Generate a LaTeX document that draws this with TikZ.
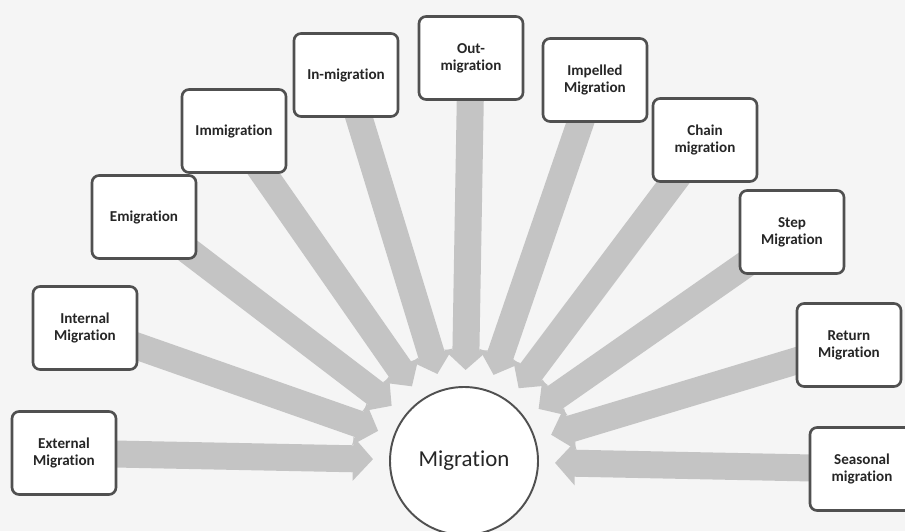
\documentclass[tikz,border=0pt]{standalone}
\usepackage{fontspec}
\setmainfont{Carlito}[Ligatures=NoCommon]
\usetikzlibrary{arrows.meta}
\pgfdeclarelayer{background}
\pgfsetlayers{background,main}
\definecolor{paper}{HTML}{F5F5F5}
\definecolor{frame}{HTML}{505050}
\definecolor{arrowgray}{HTML}{C4C4C4}
\begin{document}
\begin{tikzpicture}[
  box/.style={draw=frame, line width=1.5pt, fill=white, rounded corners=4pt,
    minimum width=2.08cm, minimum height=1.66cm, align=center,
    font=\fontsize{8.6}{9.8}\selectfont\bfseries, text=black!85},
  hub/.style={circle, draw=frame, line width=1.1pt, fill=white,
    minimum size=2.96cm, outer sep=0.34cm, font=\fontsize{13}{15}\selectfont, text=black!85},
  fatarrow/.style={draw=arrowgray, line width=0.54cm,
    -{Triangle[length=0.4cm, width=0.86cm]}}]
\useasboundingbox (0,0) rectangle (18.1,10.62);
\node[hub] (mig) at (9.28,1.40) {Migration};
\node[box] (ext) at (1.28,1.56) {External\\Migration};
\node[box] (int) at (1.70,4.06) {Internal\\Migration};
\node[box] (emi) at (2.88,6.28) {Emigration};
\node[box] (imm) at (4.68,8.00) {Immigration};
\node[box] (inm) at (6.92,9.12) {In-migration};
\node[box] (out) at (9.42,9.46) {Out-\\migration};
\node[box] (imp) at (11.90,9.02) {Impelled\\Migration};
\node[box] (cha) at (14.10,7.82) {Chain\\migration};
\node[box] (ste) at (15.84,5.98) {Step\\Migration};
\node[box] (ret) at (16.98,3.72) {Return\\Migration};
\node[box] (sea) at (17.24,1.24) {Seasonal\\migration};
\begin{pgfonlayer}{background}
\fill[paper] (0,0) rectangle (18.1,10.62);
\foreach \n in {ext,int,emi,imm,inm,out,imp,cha,ste,ret,sea}
  \draw[fatarrow] (\n.center) -- (mig);
\end{pgfonlayer}
\end{tikzpicture}
\end{document}
